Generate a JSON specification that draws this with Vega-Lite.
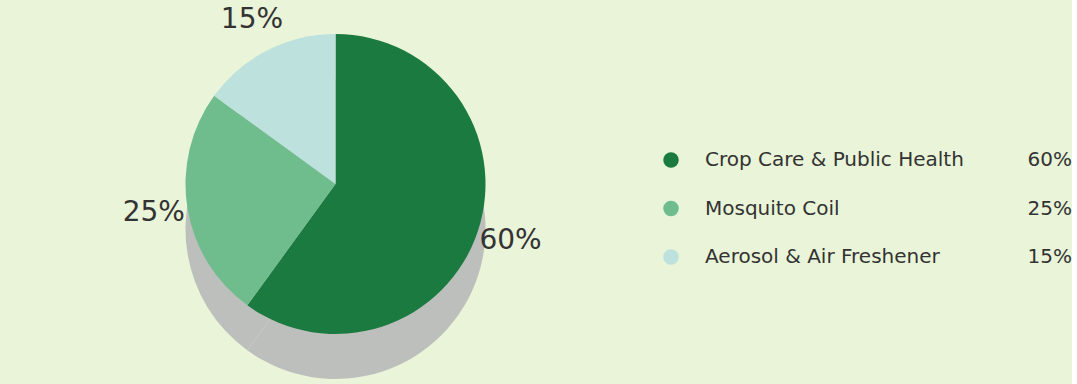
{
  "$schema": "https://vega.github.io/schema/vega-lite/v6.json",
  "autosize": {"type": "pad"},
  "padding": 0,
  "spacing": 0,
  "bounds": "flush",
  "background": "#e9f4d8",
  "config": {"view": {"stroke": null}, "font": "DejaVu Sans"},
  "datasets": {
    "shares": [
      {"name": "Crop Care & Public Health", "value": 60, "label": "60%", "order": 1},
      {"name": "Mosquito Coil", "value": 25, "label": "25%", "order": 2},
      {"name": "Aerosol & Air Freshener", "value": 15, "label": "15%", "order": 3}
    ]
  },
  "hconcat": [
    {
      "width": 671,
      "height": 368,
      "data": {"name": "shares"},
      "layer": [
        {
          "mark": {"type": "arc", "outerRadius": 150, "yOffset": 45, "fill": "#bdbfbc", "stroke": null},
          "encoding": {
            "theta": {"field": "value", "type": "quantitative", "stack": true},
            "order": {"field": "order", "type": "quantitative"}
          }
        },
        {
          "mark": {"type": "arc", "outerRadius": 150, "stroke": null},
          "encoding": {
            "theta": {"field": "value", "type": "quantitative", "stack": true},
            "order": {"field": "order", "type": "quantitative"},
            "color": {
              "field": "name", "type": "nominal", "legend": null,
              "scale": {
                "domain": ["Crop Care & Public Health", "Mosquito Coil", "Aerosol & Air Freshener"],
                "range": ["#1b7a3f", "#6fbc8d", "#bde1dc"]
              }
            }
          }
        },
        {
          "mark": {"type": "text", "radius": 184, "fontSize": 28, "fill": "#333333", "align": "center", "baseline": "middle"},
          "encoding": {
            "theta": {"field": "value", "type": "quantitative", "stack": true},
            "order": {"field": "order", "type": "quantitative"},
            "text": {"field": "label"}
          }
        }
      ]
    },
    {
      "width": 401,
      "height": 384,
      "data": {"name": "shares"},
      "encoding": {
        "y": {
          "field": "name", "type": "nominal", "axis": null,
          "sort": {"field": "order"},
          "scale": {"type": "point", "range": [160, 257], "padding": 0}
        }
      },
      "layer": [
        {
          "mark": {"type": "point", "filled": true, "size": 240, "opacity": 1},
          "encoding": {
            "x": {"datum": 0, "type": "quantitative", "axis": null, "scale": {"domain": [0, 1]}},
            "color": {
              "field": "name", "type": "nominal", "legend": null,
              "scale": {
                "domain": ["Crop Care & Public Health", "Mosquito Coil", "Aerosol & Air Freshener"],
                "range": ["#1b7a3f", "#6fbc8d", "#bde1dc"]
              }
            }
          }
        },
        {
          "mark": {"type": "text", "fontSize": 20, "fill": "#333333", "align": "left", "baseline": "middle", "dx": 34},
          "encoding": {
            "x": {"datum": 0, "type": "quantitative", "axis": null, "scale": {"domain": [0, 1]}},
            "text": {"field": "name"}
          }
        },
        {
          "mark": {"type": "text", "fontSize": 20, "fill": "#333333", "align": "right", "baseline": "middle"},
          "encoding": {
            "x": {"datum": 1, "type": "quantitative", "axis": null, "scale": {"domain": [0, 1]}},
            "text": {"field": "label"}
          }
        }
      ]
    }
  ]
}
